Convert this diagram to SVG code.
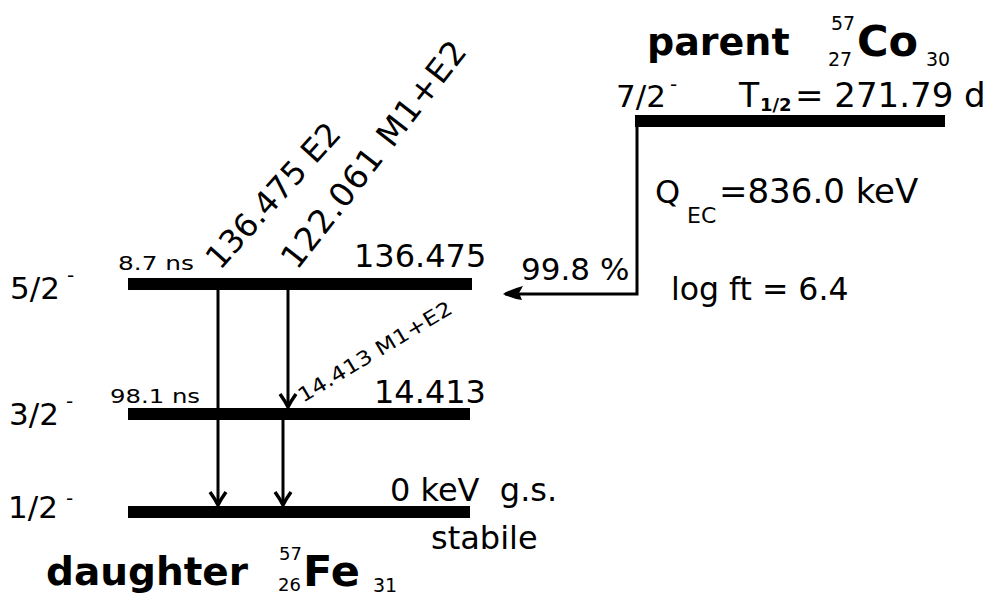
<svg xmlns="http://www.w3.org/2000/svg" width="987" height="598" viewBox="0 0 987 598">
<defs>
<style>
text{font-family:"DejaVu Sans",sans-serif;fill:#000;white-space:pre}
.b{font-weight:bold}
.lvl{stroke:#000;stroke-width:12;fill:none}
.g{stroke:#000;stroke-width:3;fill:none}
.sup{font-size:20px}
</style>
<marker id="ah" viewBox="-14 -9 16 18" refX="0" refY="0" markerWidth="16" markerHeight="18" markerUnits="userSpaceOnUse" orient="auto" overflow="visible">
<path d="M-13,-8 Q-6,-3 0,0 Q-6,3 -13,8" fill="none" stroke="#000" stroke-width="3.5"/>
</marker>
<marker id="ahe" viewBox="-20 -12 24 24" refX="0" refY="0" markerWidth="24" markerHeight="24" markerUnits="userSpaceOnUse" orient="auto" overflow="visible">
<path d="M2,0 Q-6,5 -18,8 L-14,1 L-17,-6 Q-8,-5 2,0 Z" fill="#000"/>
</marker>
</defs>
<rect width="987" height="598" fill="#fff"/>

<g id="parent">
<line class="lvl" x1="635" y1="121" x2="945" y2="121"/>
<text class="b" x="647" y="55" font-size="38">parent</text>
<text x="831" y="30" font-size="19">57</text>
<text x="828" y="66" font-size="19">27</text>
<text class="b" x="857" y="56" font-size="43">Co</text>
<text x="926" y="66" font-size="19">30</text>
<text x="616" y="107" font-size="31">7/2<tspan x="670" y="91" class="sup">-</tspan></text>
<text x="739" y="107" font-size="33">T<tspan class="b" x="760" y="111" font-size="18">1/2</tspan><tspan x="795" y="107" font-size="34">= 271.79 d</tspan></text>
</g>

<g id="qec">
<text x="655" y="203" font-size="32">Q<tspan x="687" y="223" font-size="22">EC</tspan><tspan x="719" y="203" font-size="34">=836.0 keV</tspan></text>
<text x="671" y="300" font-size="31.5">log ft = 6.4</text>
</g>

<g id="level-136">
<line class="lvl" x1="128" y1="284" x2="472" y2="284"/>
<text x="10" y="299" font-size="31">5/2<tspan x="67" y="282" class="sup">-</tspan></text>
<text x="118" y="270" font-size="20" textLength="76" lengthAdjust="spacingAndGlyphs">8.7 ns</text>
<text x="354" y="267" font-size="32">136.475</text>
</g>

<g id="level-14">
<line class="lvl" x1="128" y1="414" x2="470" y2="414"/>
<text x="9" y="425" font-size="31">3/2<tspan x="66" y="408" class="sup">-</tspan></text>
<text x="110" y="403" font-size="20" textLength="90" lengthAdjust="spacingAndGlyphs">98.1 ns</text>
<text x="374" y="403" font-size="32">14.413</text>
</g>

<g id="level-0">
<line class="lvl" x1="128" y1="512" x2="470" y2="512"/>
<text x="8" y="518" font-size="31">1/2<tspan x="66" y="505" class="sup">-</tspan></text>
<text x="390" y="501" font-size="32">0 keV  g.s.</text>
<text x="431" y="549" font-size="32">stabile</text>
</g>

<g id="daughter">
<text class="b" x="46" y="585" font-size="39">daughter</text>
<text x="279" y="560" font-size="18">57</text>
<text x="278" y="591" font-size="18">26</text>
<text class="b" x="303" y="586" font-size="43">Fe</text>
<text x="373" y="592" font-size="19">31</text>
</g>

<g id="connectors">
<polyline class="g" stroke-width="4" points="637,127 637,294 505,294" marker-end="url(#ahe)"/>
<line class="g" x1="218" y1="290" x2="218" y2="505" marker-end="url(#ah)"/>
<line class="g" x1="288" y1="290" x2="288" y2="407" marker-end="url(#ah)"/>
<line class="g" x1="283" y1="420" x2="283" y2="505" marker-end="url(#ah)"/>
</g>

<g id="labels">
<text x="521" y="280" font-size="31">99.8 %</text>
<text transform="translate(220,271) rotate(-48)" font-size="32">136.475 E2</text>
<text transform="translate(297,271) rotate(-52)" font-size="33" letter-spacing="1">122.061 M1+E2</text>
<text transform="translate(303,403) rotate(-31)" font-size="20" textLength="176" lengthAdjust="spacingAndGlyphs">14.413 M1+E2</text>
</g>
</svg>
